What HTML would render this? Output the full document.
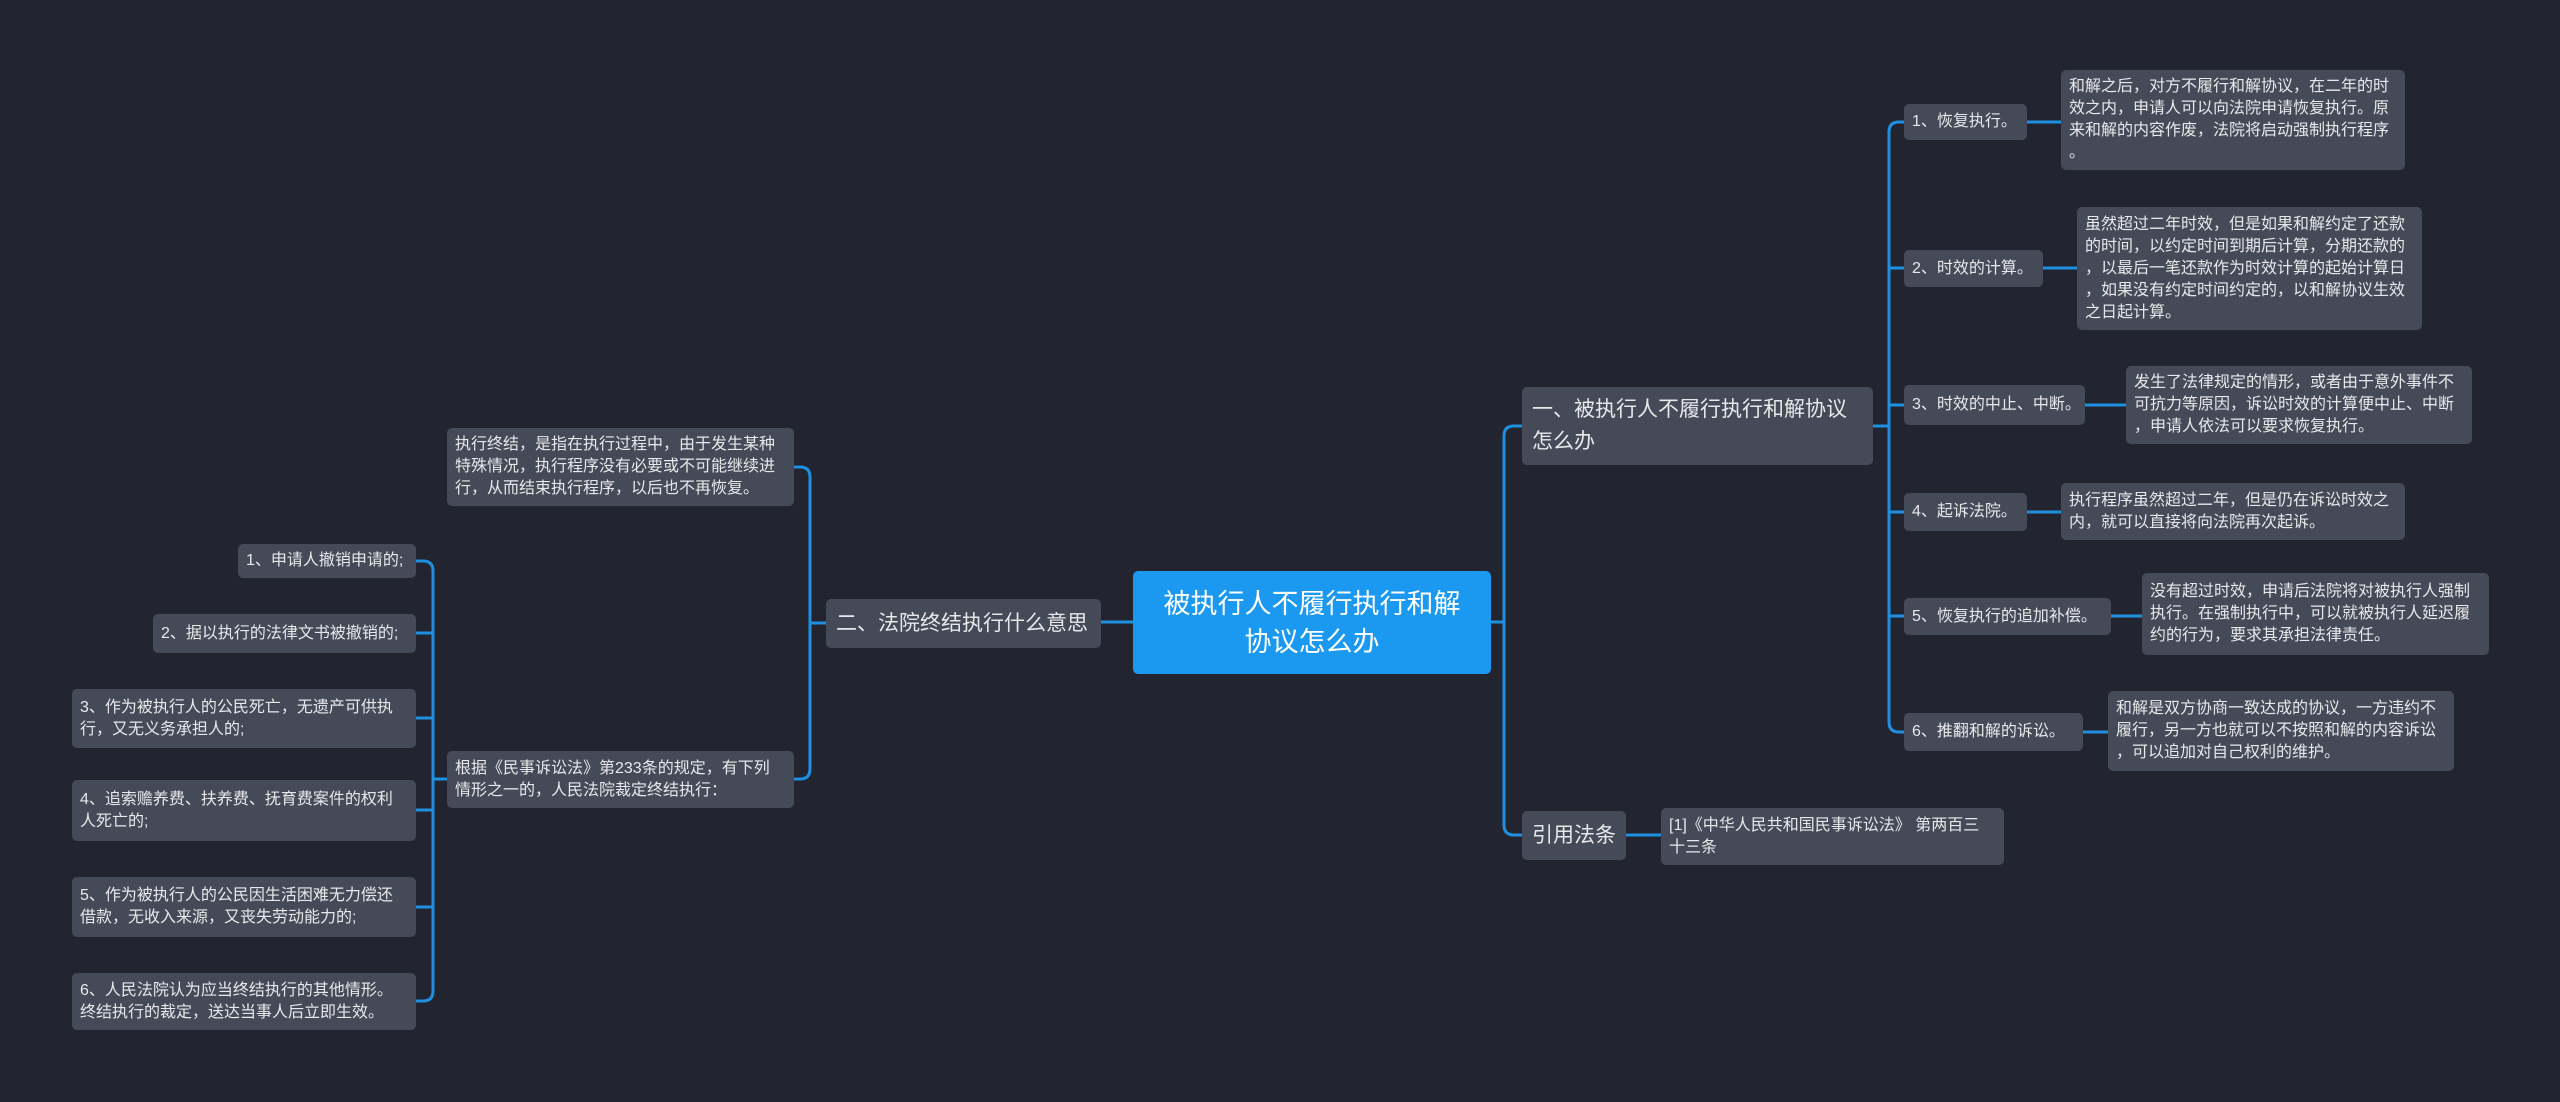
<!DOCTYPE html>
<html><head><meta charset="utf-8"><style>
html,body{margin:0;padding:0;}
body{width:2560px;height:1102px;background:#22252f;position:relative;overflow:hidden;font-family:"Liberation Sans","Noto Sans CJK SC",sans-serif;}
.n{position:absolute;box-sizing:border-box;background:#454a58;color:#e8e8ea;border-radius:5px;display:flex;align-items:center;padding:0 8px;font-size:16px;line-height:22px;white-space:nowrap;}
.b{font-size:21px;line-height:32px;padding:0 10px;}
.r{background:#1b98ef;color:#fff;font-size:27px;line-height:38px;justify-content:center;text-align:center;}
svg{position:absolute;left:0;top:0;}
</style></head><body>
<svg width="2560" height="1102" fill="none" stroke="#1f8fe0" stroke-width="3">
<path d="M1491 622 H1504"/>
<path d="M1522 426 H1514 Q1504 426 1504 436 V825 Q1504 835 1514 835 H1522"/>
<path d="M1133 622 H1101"/>
<path d="M826 623 H810"/>
<path d="M794 467 H800 Q810 467 810 477 V769 Q810 779 800 779 H794"/>
<path d="M1873 426 H1889"/>
<path d="M1904 122 H1899 Q1889 122 1889 132 V722 Q1889 732 1899 732 H1904"/>
<path d="M1889 268 H1904 M1889 405 H1904 M1889 512 H1904 M1889 616 H1904"/>
<path d="M2027 122 H2061 M2043 268 H2077 M2085 405 H2126 M2027 512 H2061 M2111 616 H2142 M2083 732 H2108 M1626 835 H1661"/>
<path d="M447 779 H433"/>
<path d="M416 561 H423 Q433 561 433 571 V991 Q433 1001 423 1001 H416"/>
<path d="M416 633 H433 M416 718 H433 M416 810 H433 M416 907 H433"/>
</svg>
<div class="n r" style="left:1133px;top:571px;width:358px;height:103px;">被执行人不履行执行和解<br>协议怎么办</div>
<div class="n b" style="left:1522px;top:387px;width:351px;height:78px;">一、被执行人不履行执行和解协议<br>怎么办</div>
<div class="n b" style="left:1522px;top:811px;width:104px;height:49px;">引用法条</div>
<div class="n" style="left:1661px;top:808px;width:343px;height:57px;">[1]《中华人民共和国民事诉讼法》 第两百三<br>十三条</div>
<div class="n" style="left:1904px;top:104px;width:123px;height:36px;">1、恢复执行。</div>
<div class="n" style="left:2061px;top:70px;width:344px;height:100px;">和解之后，对方不履行和解协议，在二年的时<br>效之内，申请人可以向法院申请恢复执行。原<br>来和解的内容作废，法院将启动强制执行程序<br>。</div>
<div class="n" style="left:1904px;top:250px;width:139px;height:37px;">2、时效的计算。</div>
<div class="n" style="left:2077px;top:207px;width:345px;height:123px;">虽然超过二年时效，但是如果和解约定了还款<br>的时间，以约定时间到期后计算，分期还款的<br>，以最后一笔还款作为时效计算的起始计算日<br>，如果没有约定时间约定的，以和解协议生效<br>之日起计算。</div>
<div class="n" style="left:1904px;top:385px;width:181px;height:40px;">3、时效的中止、中断。</div>
<div class="n" style="left:2126px;top:366px;width:346px;height:78px;">发生了法律规定的情形，或者由于意外事件不<br>可抗力等原因，诉讼时效的计算便中止、中断<br>，申请人依法可以要求恢复执行。</div>
<div class="n" style="left:1904px;top:493px;width:123px;height:38px;">4、起诉法院。</div>
<div class="n" style="left:2061px;top:483px;width:344px;height:57px;">执行程序虽然超过二年，但是仍在诉讼时效之<br>内，就可以直接将向法院再次起诉。</div>
<div class="n" style="left:1904px;top:598px;width:207px;height:37px;">5、恢复执行的追加补偿。</div>
<div class="n" style="left:2142px;top:573px;width:347px;height:82px;">没有超过时效，申请后法院将对被执行人强制<br>执行。在强制执行中，可以就被执行人延迟履<br>约的行为，要求其承担法律责任。</div>
<div class="n" style="left:1904px;top:713px;width:179px;height:38px;">6、推翻和解的诉讼。</div>
<div class="n" style="left:2108px;top:691px;width:346px;height:80px;">和解是双方协商一致达成的协议，一方违约不<br>履行，另一方也就可以不按照和解的内容诉讼<br>，可以追加对自己权利的维护。</div>
<div class="n b" style="left:826px;top:599px;width:275px;height:49px;">二、法院终结执行什么意思</div>
<div class="n" style="left:447px;top:428px;width:347px;height:78px;">执行终结，是指在执行过程中，由于发生某种<br>特殊情况，执行程序没有必要或不可能继续进<br>行，从而结束执行程序，以后也不再恢复。</div>
<div class="n" style="left:447px;top:751px;width:347px;height:57px;">根据《民事诉讼法》第233条的规定，有下列<br>情形之一的，人民法院裁定终结执行：</div>
<div class="n" style="left:238px;top:544px;width:178px;height:34px;">1、申请人撤销申请的;</div>
<div class="n" style="left:153px;top:614px;width:263px;height:39px;">2、据以执行的法律文书被撤销的;</div>
<div class="n" style="left:72px;top:689px;width:344px;height:59px;">3、作为被执行人的公民死亡，无遗产可供执<br>行，又无义务承担人的;</div>
<div class="n" style="left:72px;top:780px;width:344px;height:61px;">4、追索赡养费、扶养费、抚育费案件的权利<br>人死亡的;</div>
<div class="n" style="left:72px;top:877px;width:344px;height:60px;">5、作为被执行人的公民因生活困难无力偿还<br>借款，无收入来源，又丧失劳动能力的;</div>
<div class="n" style="left:72px;top:973px;width:344px;height:57px;">6、人民法院认为应当终结执行的其他情形。<br>终结执行的裁定，送达当事人后立即生效。</div>
</body></html>
